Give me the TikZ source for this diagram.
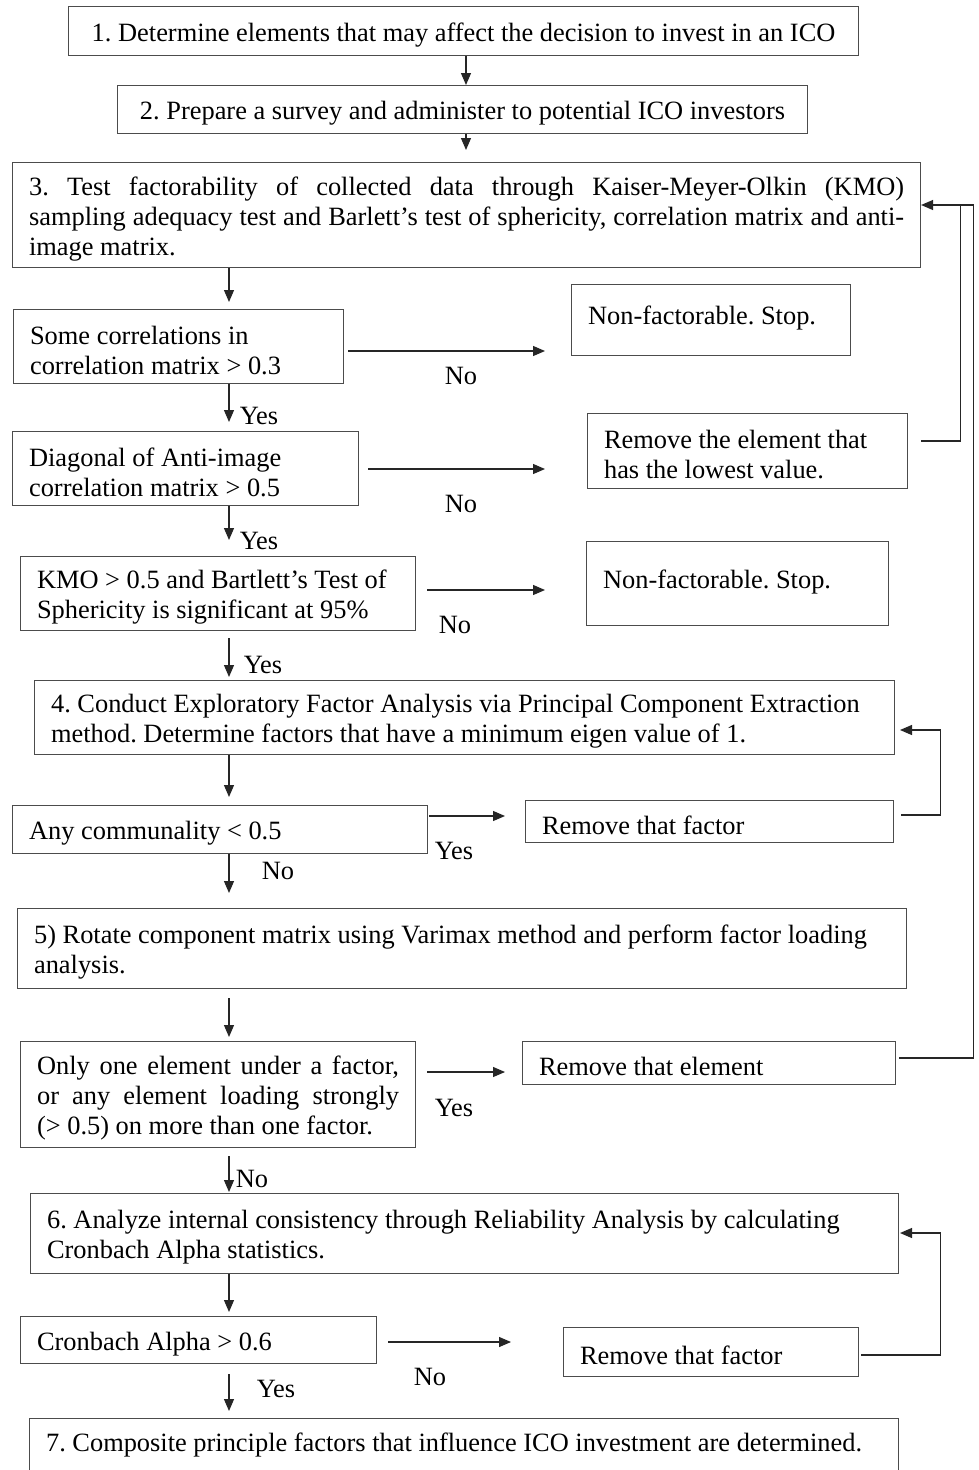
\documentclass[tikz,border=0pt]{standalone}
\usepackage{fontspec}
\setmainfont{Liberation Serif}
\usetikzlibrary{arrows.meta}
\frenchspacing
\begin{document}
\begin{tikzpicture}[x=1pt,y=-1pt,
  every node/.style={font=\fontsize{26.4}{30}\selectfont},
  box/.style={draw=black!70, line width=1.1pt, anchor=north west, inner xsep=16.5pt, inner ysep=0pt, align=flush left, execute at begin node={\rule{0pt}{26pt}}},
  arr/.style={line width=1.2pt, draw=black!85, -{Triangle[length=12pt,width=10pt]}},
  ln/.style={line width=1.2pt, draw=black!85},
  lab/.style={inner sep=0pt}]
\useasboundingbox (0,0) rectangle (979,1470);
\fill[white] (0,0) rectangle (979,1470);

\node[box, align=flush center, minimum width=790, minimum height=49, text width=757] (b1) at (68,6) {1. Determine elements that may affect the decision to invest in an ICO};
\node[box, align=flush center, minimum width=690, minimum height=48, text width=657] (b2) at (117,85) {2. Prepare a survey and administer to potential ICO investors};
\node[box, minimum width=908, minimum height=105, text width=875] (b3) at (12,162) {\makebox[875pt][s]{3. Test factorability of collected data through Kaiser-Meyer-Olkin (KMO)}\\\makebox[875pt][s]{sampling adequacy test and Barlett's test of sphericity, correlation matrix and anti-}\\image matrix.};
\node[box, minimum width=330, minimum height=74, text width=297] (q1) at (13,309) {Some correlations in\\correlation matrix > 0.3};
\node[box, minimum width=279, minimum height=71, text width=246] (nf1) at (571,284) {Non-factorable. Stop.\rule[-17pt]{0pt}{1pt}};
\node[box, minimum width=346, minimum height=74, text width=313] (q2) at (12,431) {Diagonal of Anti-image\\correlation matrix > 0.5};
\node[box, minimum width=320, minimum height=75, text width=287] (rm1) at (587,413) {Remove the element that\\has the lowest value.};
\node[box, minimum width=395, minimum height=74, text width=362] (q3) at (20,556) {KMO > 0.5 and Bartlett's Test of\\Sphericity is significant at 95\%};
\node[box, minimum width=302, minimum height=84, text width=269] (nf2) at (586,541) {Non-factorable. Stop.\rule[-17pt]{0pt}{1pt}};
\node[box, minimum width=860, minimum height=74, text width=827] (b4) at (34,680) {4. Conduct Exploratory Factor Analysis via Principal Component Extraction\\method. Determine factors that have a minimum eigen value of 1.};
\node[box, minimum width=415, minimum height=48, text width=382] (q4) at (12,805) {Any communality < 0.5};
\node[box, minimum width=368, minimum height=42, text width=335] (rf1) at (525,800) {Remove that factor};
\node[box, minimum width=889, minimum height=80, text width=856] (b5) at (17,908) {5) Rotate component matrix using Varimax method and perform factor loading\\analysis.};
\node[box, minimum width=395, minimum height=106, text width=362] (q5) at (20,1041) {\makebox[362pt][s]{Only one element under a factor,}\\\makebox[362pt][s]{or any element loading strongly}\\(> 0.5) on more than one factor.};
\node[box, minimum width=373, minimum height=43, text width=340] (re) at (522,1041) {Remove that element};
\node[box, minimum width=868, minimum height=80, text width=835] (b6) at (30,1193) {6. Analyze internal consistency through Reliability Analysis by calculating\\Cronbach Alpha statistics.};
\node[box, minimum width=356, minimum height=47, text width=323] (q6) at (20,1316) {Cronbach Alpha > 0.6};
\node[box, minimum width=295, minimum height=49, text width=262] (rf2) at (563,1327) {Remove that factor};
\node[box, inner ysep=7pt, minimum width=869, text width=836] (b7) at (29,1418) {7. Composite principle factors that influence ICO investment are determined.\\[40pt]\mbox{}};

\coordinate (a1) at (466,0);
\coordinate (cx) at (229,0);
\coordinate (j1) at (959,205);
\coordinate (t4) at (900,730);
\coordinate (t6) at (900,1233);

% vertical flow
\draw[arr] (b1.south -| a1) -- (b2.north -| a1);
\draw[arr, shorten >=12pt] (b2.south -| a1) -- (b3.north -| a1);
\draw[arr, shorten >=7pt] (b3.south -| cx) -- (q1.north -| cx);
\draw[arr, shorten >=9pt] (q1.south -| cx) -- (q2.north -| cx);
\draw[arr, shorten >=16pt] (q2.south -| cx) -- (q3.north -| cx);
\draw[arr, shorten <=7pt, shorten >=3pt] (q3.south -| cx) -- (b4.north -| cx);
\draw[arr, shorten >=8pt] (b4.south -| cx) -- (q4.north -| cx);
\draw[arr, shorten >=15pt] (q4.south -| cx) -- (b5.north -| cx);
\draw[arr, shorten <=9pt, shorten >=4pt] (b5.south -| cx) -- (q5.north -| cx);
\draw[arr, shorten <=8pt, shorten >=1pt] (q5.south -| cx) -- (b6.north -| cx);
\draw[arr, shorten >=4pt] (b6.south -| cx) -- (q6.north -| cx);
\draw[arr, shorten <=10pt, shorten >=7pt] (q6.south -| cx) -- (b7.north -| cx);

% side arrows
\draw[arr, shorten <=4pt, shorten >=26pt] (q1.east |- 0,351) -- (nf1.west |- 0,351);
\draw[arr, shorten <=9pt, shorten >=42pt] (q2.east |- 0,469) -- (rm1.west |- 0,469);
\draw[arr, shorten <=11pt, shorten >=41pt] (q3.east |- 0,590) -- (nf2.west |- 0,590);
\draw[arr, shorten <=1pt, shorten >=20pt] (q4.east |- 0,816) -- (rf1.west |- 0,816);
\draw[arr, shorten <=11pt, shorten >=17pt] (q5.east |- 0,1072) -- (re.west |- 0,1072);
\draw[arr, shorten <=11pt, shorten >=52pt] (q6.east |- 0,1342) -- (rf2.west |- 0,1342);

% feedback loops
\draw[arr] (rm1.east |- 0,441) ++(13,0) -- ++(39,0) |- (b3.east |- 0,205);
\draw[ln] (re.east |- 0,1058) ++(3,0) -- ++(74,0) |- (j1);
\draw[arr] (rf1.east |- 0,815) ++(7,0) -- ++(39,0) |- (t4);
\draw[arr] (rf2.east |- 0,1355) ++(2,0) -- ++(79,0) |- (t6);

% labels
\node[lab] (l1) at (461,376) {No};
\node[lab] (l2) at (259,416) {Yes};
\node[lab] (l3) at (461,504) {No};
\node[lab] (l4) at (259,541) {Yes};
\node[lab] (l5) at (455,625) {No};
\node[lab] (l6) at (263,665) {Yes};
\node[lab] (l7) at (454,851) {Yes};
\node[lab] (l8) at (278,871) {No};
\node[lab] (l9) at (454,1108) {Yes};
\node[lab] (l10) at (252,1179) {No};
\node[lab] (l11) at (430,1377) {No};
\node[lab] (l12) at (276,1389) {Yes};
\end{tikzpicture}
\end{document}
